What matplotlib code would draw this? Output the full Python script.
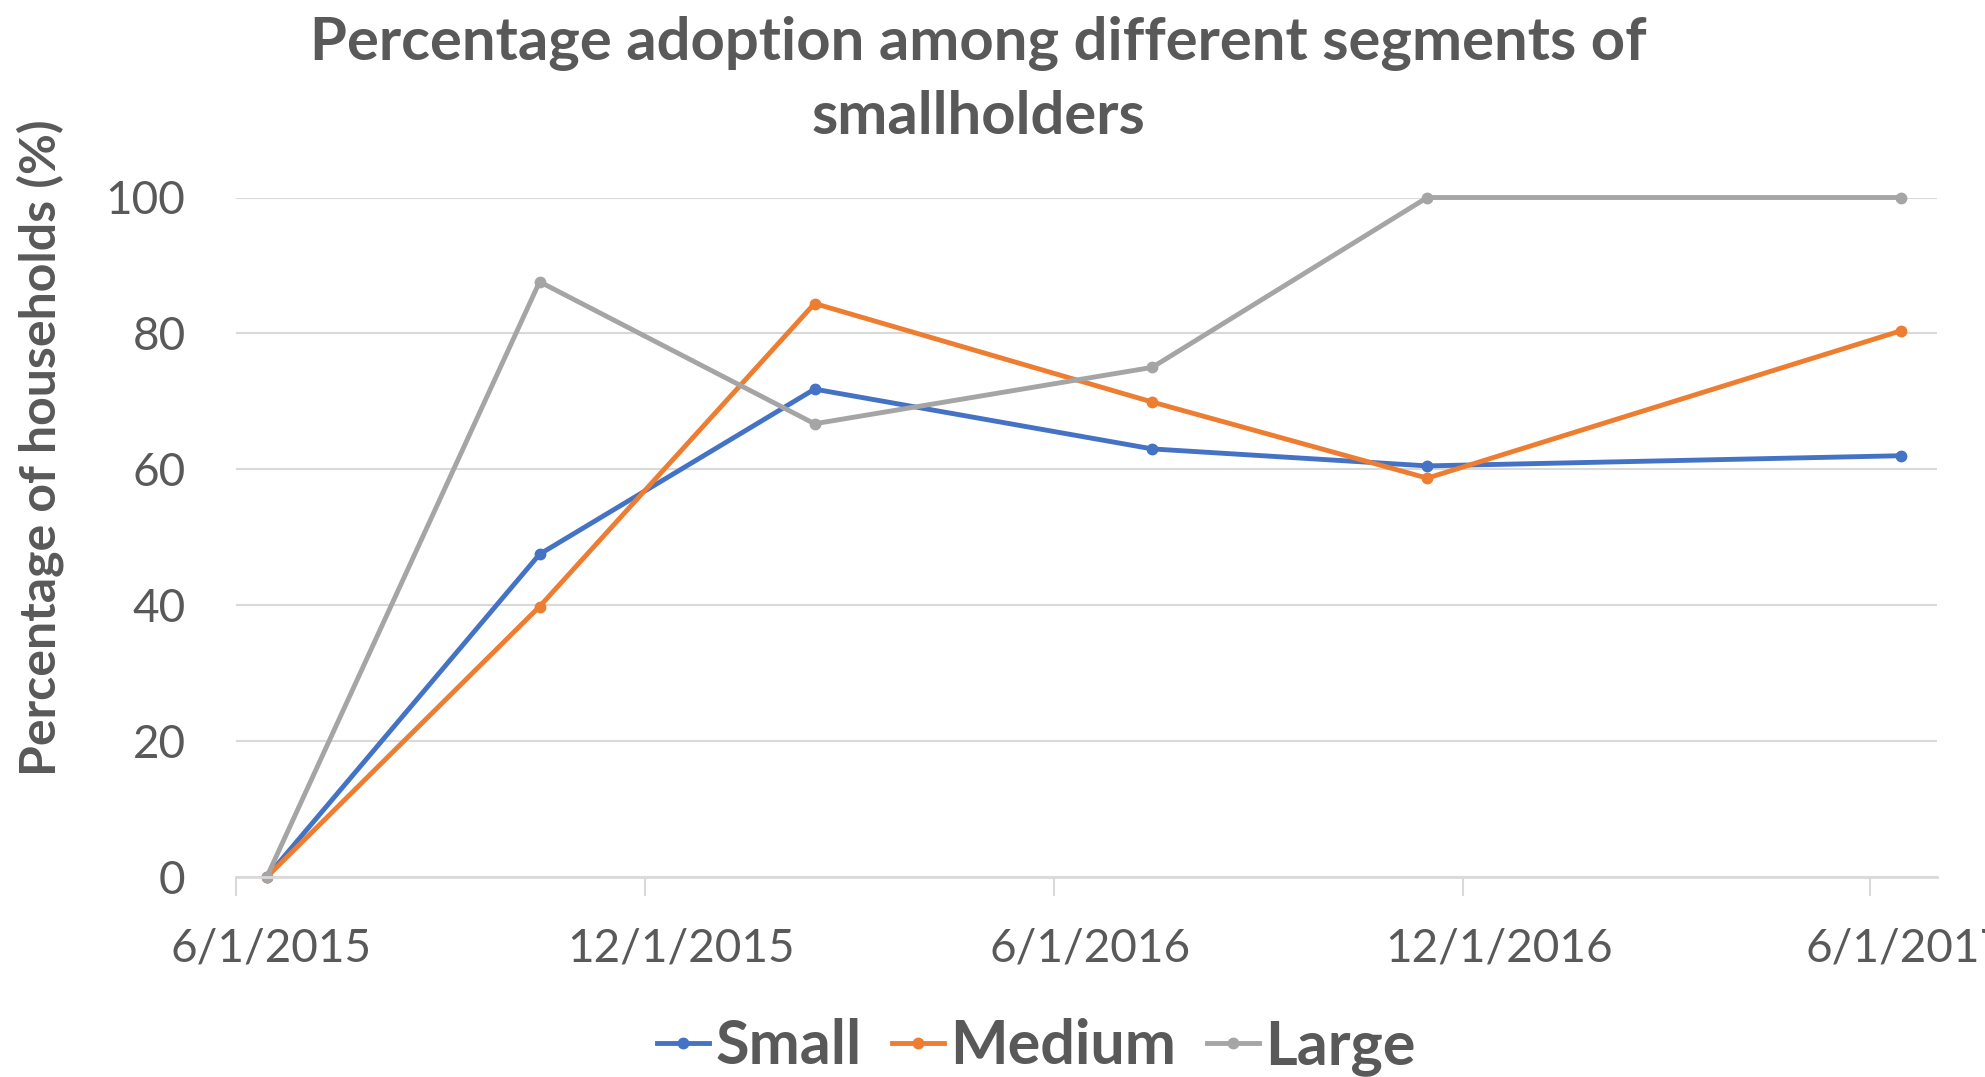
import matplotlib
matplotlib.use("Agg")
import matplotlib.pyplot as plt
import matplotlib.dates as mdates
import matplotlib.transforms as mtransforms
import numpy as np
import pandas as pd

plt.rcParams['font.family'] = ['Lato', 'DejaVu Sans']

# data
dates = pd.to_datetime(['2015-06-15', '2015-10-15', '2016-02-15',
                        '2016-07-15', '2016-11-15', '2017-06-15'])
small = [0, 47.5, 71.8, 63.0, 60.5, 62.0]
medium = [0, 39.8, 84.4, 69.9, 58.7, 80.4]
large = [0, 87.6, 66.7, 75.0, 100, 100]

series = ['Small', 'Medium', 'Large']
colors = ['#4472C4', '#ED7D31', '#A5A5A5']
tick_dates = pd.to_datetime(['2015-06-01', '2015-12-01', '2016-06-01',
                             '2016-12-01', '2017-06-01'])
yticks = [0, 20, 40, 60, 80, 100]

txt = '#595959'
grid = '#D9D9D9'

fig = plt.figure(figsize=(19.85, 10.77), dpi=100)
ax = fig.add_axes([235.5 / 1985, 1 - 877 / 1077, (1937 - 235.5) / 1985, (877 - 197.5) / 1077])

for name, vals, c in zip(series, [small, medium, large], colors):
    ax.plot(dates, vals, color=c, lw=3.5, marker='o', ms=7.5, label=name,
            solid_joinstyle='round', clip_on=False)

ax.set_xlim(pd.Timestamp('2015-06-01'), pd.Timestamp('2017-07-01'))
ax.set_ylim(0, 100)
ax.set_xticks(tick_dates)
ax.xaxis.set_major_formatter(mdates.DateFormatter('%-m/%-d/%Y'))
ax.set_yticks(yticks)

ax.grid(axis='y', color=grid, lw=1.5)
ax.set_axisbelow(True)
for s in ['top', 'right', 'left']:
    ax.spines[s].set_visible(False)
ax.spines['bottom'].set_color(grid)
ax.spines['bottom'].set_linewidth(2)

ax.tick_params(axis='x', direction='out', length=14, width=1.5, color=grid,
               labelsize=33, labelcolor=txt, pad=22)
ax.tick_params(axis='y', length=0, labelsize=33, labelcolor=txt, pad=36)

# excel draws the date labels a bit to the right of the tick
shift = mtransforms.ScaledTranslation(36 / 100, 0, fig.dpi_scale_trans)
for lab in ax.get_xticklabels():
    lab.set_transform(lab.get_transform() + shift)

fig.text(40 / 1985, 1 - 448 / 1077, 'Percentage of households (%)', rotation=90,
         ha='center', va='center', fontsize=36, fontweight='bold', color=txt)

fig.text(0.493, 0.985, 'Percentage adoption among different segments of\nsmallholders',
         ha='center', va='top', fontsize=43, fontweight='bold', color=txt,
         linespacing=1.42)

leg = fig.legend(loc='center', bbox_to_anchor=(0.522, 0.028), ncol=3, frameon=False,
                 handlelength=0.85, handletextpad=0.1, columnspacing=0.5,
                 prop={'weight': 'bold', 'size': 44})
for t in leg.get_texts():
    t.set_color(txt)

fig.savefig('out.png', dpi=100)
